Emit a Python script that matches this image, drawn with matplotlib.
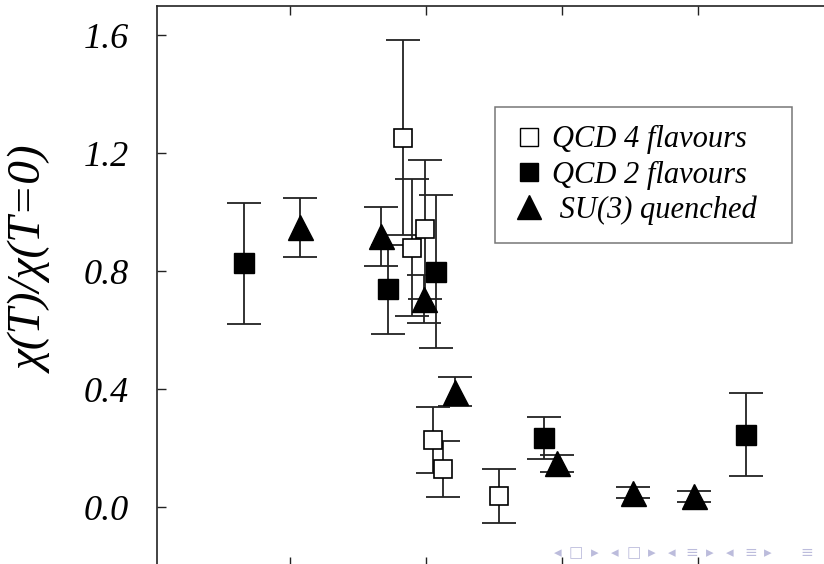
import matplotlib
matplotlib.use("Agg")
import matplotlib.pyplot as plt
from matplotlib.lines import Line2D

# QCD 4 flavours (open squares)
qcd4_x = [1.829, 1.892, 1.993, 2.049, 2.123, 2.537]
qcd4_y = [1.252, 0.879, 0.941, 0.227, 0.129, 0.037]
qcd4_err = [0.330, 0.232, 0.236, 0.113, 0.095, 0.092]

# QCD 2 flavours (filled squares)
qcd2_x = [0.657, 1.722, 2.071, 2.868, 4.348]
qcd2_y = [0.826, 0.738, 0.798, 0.234, 0.245]
qcd2_err = [0.205, 0.150, 0.260, 0.070, 0.140]

# SU(3) quenched (triangles)
su3_x = [1.074, 1.667, 1.985, 2.213, 2.961, 3.517, 3.971]
su3_y = [0.948, 0.917, 0.706, 0.391, 0.148, 0.049, 0.036]
su3_err = [0.100, 0.100, 0.082, 0.050, 0.029, 0.018, 0.018]

y_ticks = [0.0, 0.4, 0.8, 1.2, 1.6]
y_ticklabels = ["0.0", "0.4", "0.8", "1.2", "1.6"]
x_ticks = [1, 2, 3, 4]

SERIF = ["Liberation Serif", "DejaVu Serif"]
LINE = "#222222"

W, H = 824, 564
fig = plt.figure(figsize=(W / 100, H / 100), dpi=100)
# axes box runs past the right and bottom edges (cropped slide)
left_px, top_px = 157, 5.5
width_px, height_px = 677.3, 560.5
ax = fig.add_axes([left_px / W, (H - top_px - height_px) / H, width_px / W, height_px / H])

eb_kw = dict(fmt="none", ecolor=LINE, elinewidth=1.3, capsize=12, capthick=1.3, zorder=2)
ax.errorbar(qcd4_x, qcd4_y, yerr=qcd4_err, **eb_kw)
ax.errorbar(qcd2_x, qcd2_y, yerr=qcd2_err, **eb_kw)
ax.errorbar(su3_x, su3_y, yerr=su3_err, **eb_kw)

ax.plot(qcd4_x, qcd4_y, ls="none", marker="s", ms=13, mfc="white", mec="black", mew=1.2, zorder=3)
ax.plot(qcd2_x, qcd2_y, ls="none", marker="s", ms=15, mfc="black", mec="black", zorder=4)
ax.plot(su3_x, su3_y, ls="none", marker="^", ms=18, mfc="black", mec="black", zorder=5)

ax.set_xlim(0.02, 5.0)
ax.set_ylim(-0.2, 1.7)
ax.set_xticks(x_ticks)
ax.set_xticklabels([])
ax.set_yticks(y_ticks)
ax.set_yticklabels(y_ticklabels, family=SERIF, style="italic", fontsize=26)
ax.tick_params(direction="in", length=6.5, width=1.0, top=True, right=True, color=LINE)
ax.tick_params(axis="y", pad=20)
for spine in ax.spines.values():
    spine.set_linewidth(1.2)
    spine.set_color(LINE)

ax.set_ylabel("χ(T)/χ(T=0)", family=SERIF, style="italic", fontsize=34)
ax.yaxis.set_label_coords(-0.152, 0.545)

handles = [
    Line2D([], [], ls="none", marker="s", ms=12.5, mfc="white", mec="black", mew=1.0),
    Line2D([], [], ls="none", marker="s", ms=12.5, mfc="black", mec="black"),
    Line2D([], [], ls="none", marker="^", ms=17, mfc="black", mec="black"),
]
labels = ["QCD 4 flavours", "QCD 2 flavours", " SU(3) quenched"]
box_x0 = (495 - left_px) / width_px
box_y1 = (top_px + height_px - 107) / height_px
box_w = (792 - 495) / width_px
box_h = (242 - 107) / height_px
leg = ax.legend(
    handles, labels,
    loc="upper left",
    bbox_to_anchor=(box_x0, box_y1 - box_h, box_w, box_h),
    mode="expand",
    borderaxespad=0,
    frameon=True,
    fancybox=False,
    edgecolor="#555555",
    handlelength=1.0,
    handletextpad=0.25,
    labelspacing=0.2,
    borderpad=0.6,
    prop=dict(family=SERIF, style="italic", size=22),
)
leg.get_frame().set_linewidth(1.1)

# beamer navigation symbols
nav = ["◂", "□", "▸", "◂", "□", "▸", "◂", "≡", "▸", "◂", "≡", "▸", "≡"]
nav_px = [558, 576, 595, 615, 634, 652, 672, 692, 710, 730, 751, 768, 807]
for g, px in zip(nav, nav_px):
    fig.text(px / W, (H - 553) / H, g, ha="center", va="center", fontsize=11,
             color="#bcbcdc", family="DejaVu Sans")

fig.savefig("out.png", dpi=100)
